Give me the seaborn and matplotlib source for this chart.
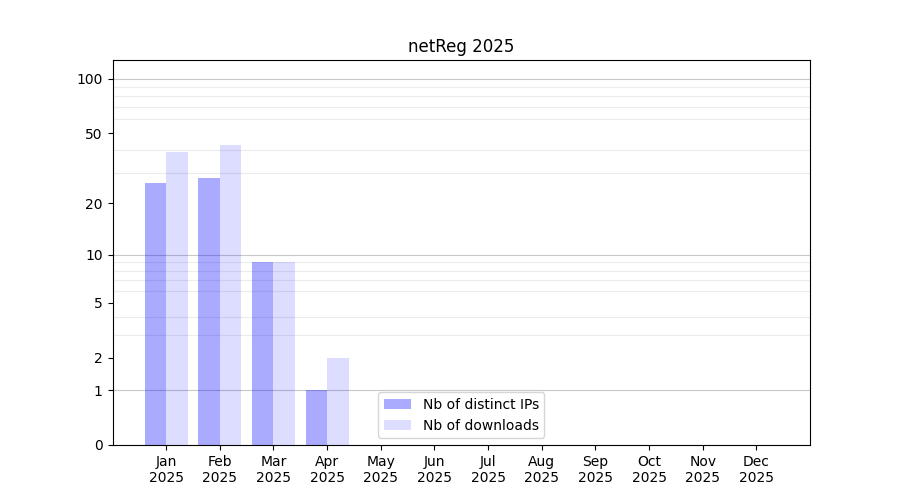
import numpy as np
import pandas as pd
import matplotlib
matplotlib.use('Agg')
import matplotlib.pyplot as plt
import seaborn as sb
from matplotlib.ticker import FixedLocator, NullFormatter

months = ['Jan', 'Feb', 'Mar', 'Apr', 'May', 'Jun',
          'Jul', 'Aug', 'Sep', 'Oct', 'Nov', 'Dec']
year = '2025'
distinct_ips = [26, 28, 9, 1, 0, 0, 0, 0, 0, 0, 0, 0]
downloads = [39, 43, 9, 2, 0, 0, 0, 0, 0, 0, 0, 0]
series = ['Nb of distinct IPs', 'Nb of downloads']
alphas = [0.333, 0.133]
y_ticks = [0, 1, 2, 5, 10, 20, 50, 100]

labels = [m + '\n' + year for m in months]
data = pd.DataFrame({
    'month': labels * 2,
    'value': distinct_ips + downloads,
    'series': [series[0]] * 12 + [series[1]] * 12,
})

fig, ax = plt.subplots(figsize=(9, 5), dpi=100)
ax.set_yscale('function', functions=(np.log1p, np.expm1))

sb.barplot(data=data, x='month', y='value', hue='series', order=labels,
           hue_order=series, palette=['#0000ff', '#0000ff'], saturation=1,
           width=0.8, gap=0, ax=ax, errorbar=None)

# translucent bars, so the grid shows through them
for cont, a in zip(ax.containers, alphas):
    for bar in cont:
        bar.set_alpha(a)

ax.set_xlim(-1, 12)
ax.set_ylim(0, 127)
ax.set_xlabel('')
ax.set_ylabel('')
ax.set_title('netReg 2025')

ax.yaxis.set_major_locator(FixedLocator(y_ticks))
ax.set_yticklabels([str(t) for t in y_ticks])
minor = [2, 3, 4, 5, 6, 7, 8, 9, 20, 30, 40, 50, 60, 70, 80, 90]
ax.yaxis.set_minor_locator(FixedLocator(minor))
ax.yaxis.set_minor_formatter(NullFormatter())
ax.tick_params(axis='y', which='minor', length=0)
ax.grid(False)
ax.set_axisbelow(True)
ax.grid(axis='y', which='minor', color='#ececec', linewidth=0.8)
for v in [1, 10, 100]:
    ax.axhline(v, color='#c8c8c8', linewidth=0.8, zorder=0.6)

for side in ['top', 'right', 'left', 'bottom']:
    ax.spines[side].set_visible(True)

leg = ax.legend(loc='lower center', title=None)
for h, a in zip(leg.legend_handles, alphas):
    h.set_alpha(a)

fig.savefig('out.png', dpi=100)
